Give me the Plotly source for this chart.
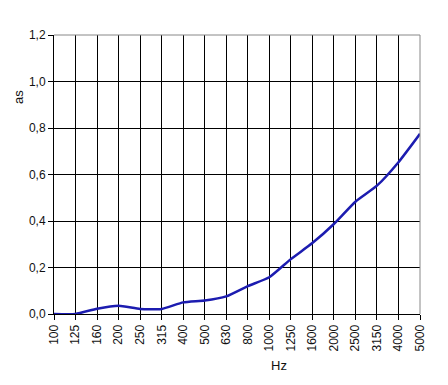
import plotly.graph_objects as go

freqs = ["100", "125", "160", "200", "250", "315", "400", "500", "630", "800",
         "1000", "1250", "1600", "2000", "2500", "3150", "4000", "5000"]
alpha = [0.0, 0.0, 0.023, 0.036, 0.022, 0.022, 0.05, 0.058, 0.076, 0.12,
         0.158, 0.236, 0.305, 0.387, 0.483, 0.552, 0.653, 0.775]
y_ticks = [0.0, 0.2, 0.4, 0.6, 0.8, 1.0, 1.2]
y_labels = ["0,0", "0,2", "0,4", "0,6", "0,8", "1,0", "1,2"]

# page body has an 8px margin; figure is placed at (8, 8)
OFF = 8
W, H = 448, 385
L, R, T, B = 54 - OFF, (W + OFF) - 420, 35 - OFF, (H + OFF) - 314
pw, ph = W - L - R, H - T - B


def px_to_paper(x, y):
    return (x - OFF - L) / pw, (H - B - (y - OFF)) / ph


fig = go.Figure()
fig.add_trace(go.Scatter(
    x=list(range(len(freqs))), y=alpha, mode="lines",
    line=dict(color="#1c1cb0", width=2.5, shape="spline", smoothing=0.5),
    hoverinfo="skip"))

ax_x, ax_y = px_to_paper(18, 97)
hz_x, hz_y = px_to_paper(279, 365)

fig.update_layout(
    width=W, height=H,
    margin=dict(l=L, r=R, t=T, b=B),
    paper_bgcolor="white", plot_bgcolor="white",
    showlegend=False,
    font=dict(family="Liberation Sans, Arial, sans-serif", size=12, color="#111"),
    xaxis=dict(
        range=[0, len(freqs) - 1],
        tickmode="array", tickvals=list(range(len(freqs))), ticktext=freqs,
        tickangle=-90, showgrid=True, gridcolor="black", gridwidth=1,
        showline=True, linecolor="black", linewidth=1,
        ticks="outside", ticklen=5, tickcolor="black",
        zeroline=False, tickfont=dict(size=12),
    ),
    yaxis=dict(
        range=[0, 1.2], tickmode="array", tickvals=y_ticks, ticktext=y_labels,
        showgrid=True, gridcolor="black", gridwidth=1,
        showline=True, linecolor="black", linewidth=1,
        ticks="outside", ticklen=5, tickcolor="black",
        zeroline=False, tickfont=dict(size=12),
    ),
    annotations=[
        dict(text="as", x=ax_x, y=ax_y, xref="paper", yref="paper", showarrow=False,
             textangle=-90, font=dict(size=13), xanchor="center", yanchor="middle"),
        dict(text="Hz", x=hz_x, y=hz_y, xref="paper", yref="paper", showarrow=False,
             font=dict(size=13), xanchor="center", yanchor="middle"),
    ],
)

fig.add_shape(type="line", xref="paper", yref="paper", x0=1, x1=1, y0=0, y1=1,
              line=dict(color="#888", width=1))
fig.add_shape(type="line", xref="paper", yref="paper", x0=0, x1=1, y0=1, y1=1,
              line=dict(color="#888", width=1))

fig.write_html("out.html")
